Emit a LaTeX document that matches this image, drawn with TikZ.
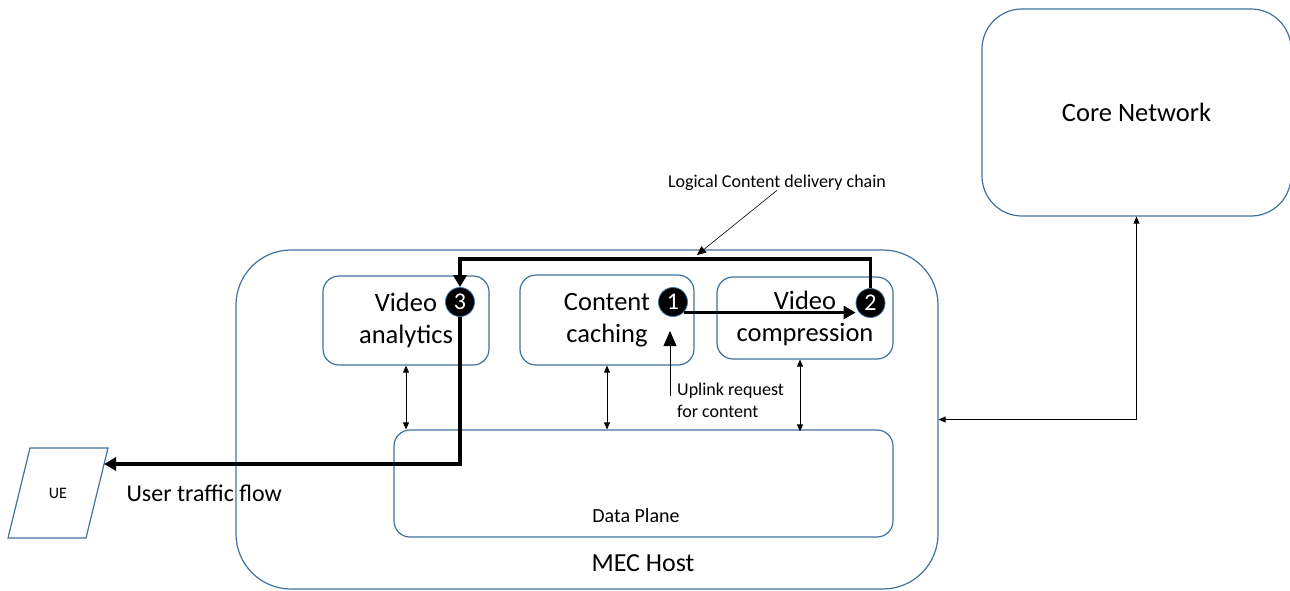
\documentclass[tikz,border=0pt]{standalone}
\usepackage{fontspec}
\setmainfont{Carlito}
\usetikzlibrary{arrows.meta,calc}
\definecolor{boxblue}{RGB}{65,113,156}
\begin{document}
\begin{tikzpicture}[x=1pt,y=-1pt,
  box/.style={draw=boxblue,line width=1.2pt,rounded corners=#1,inner sep=0pt},
  bigtxt/.style={font=\fontsize{26.5}{32}\selectfont,align=center},
  num/.style={circle,fill=black,draw=boxblue,line width=0.8pt,minimum size=29pt,inner sep=0pt,
    text=white,font=\fontsize{24}{24}\selectfont},
  flow/.style={line width=3.8pt,-{Triangle[length=12pt,width=13pt]}},
  link/.style={line width=0.8pt,{Triangle[length=7pt,width=6pt]}-{Triangle[length=7pt,width=6pt]}},
  small/.style={font=\fontsize{18}{22}\selectfont,align=left}]
\useasboundingbox (0,0) rectangle (1290,590);
% boxes
\node[box=55pt,minimum width=702pt,minimum height=339pt] (mec) at (587,419.5) {};
\node[font=\fontsize{26}{30}\selectfont] (mect) at (643,563) {MEC Host};
\node[box=40pt,minimum width=309pt,minimum height=207pt,font=\fontsize{26.5}{30}\selectfont] (core) at (1136.5,112.5) {Core Network};
\node[box=16pt,minimum width=499pt,minimum height=107pt] (dp) at (643.5,483.5) {};
\node[font=\fontsize{20}{24}\selectfont] (dpt) at (636,516) {Data Plane};
\node[box=16pt,minimum width=166pt,minimum height=89pt,bigtxt] (va) at (406,320.5) {Video\\analytics};
\node[box=16pt,minimum width=174pt,minimum height=90pt,bigtxt] (cc) at (607,320) {Content\\caching};
\node[box=16pt,minimum width=176pt,minimum height=82pt,bigtxt] (vc) at (805,318) {Video\\compression};
% UE parallelogram
\node[font=\fontsize{16}{18}\selectfont] (ue) at (58,493) {UE};
\coordinate (uetl) at (30,448);
\coordinate (uetr) at (108,448);
\coordinate (uebr) at (86,538);
\coordinate (uebl) at (8,538);
\draw[draw=boxblue,line width=1.2pt] (uetl) -- (uetr) -- (uebr) -- (uebl) -- cycle;
\node[font=\fontsize{24}{28}\selectfont,anchor=west] (utf) at (123,493) {User traffic flow};
% numbered circles
\node[num] (c3) at (460,302) {3};
\node[num] (c1) at (673,302) {1};
\node[num] (c2) at (870.5,303) {2};
% labels
\node[small,anchor=north west,inner sep=0pt] (upl) at (677,383) {Uplink request\\for content};
\node[font=\fontsize{18}{20}\selectfont] (lcd) at (777,183) {Logical Content delivery chain};
\coordinate (uplb) at (670,396);
\coordinate (uplt) at (670,331);
\coordinate (lct) at (697,255);
\coordinate (turn) at (460,464);
% vertical links
\draw[link] (va.south) -- (va.south |- dp.north);
\draw[link] (cc.south) -- (cc.south |- dp.north);
\draw[link] ([xshift=-5pt]vc.south) -- ([xshift=-5pt,yshift=-2pt]vc.south |- dp.north);
\draw[link] (core.south) |- (mec.east);
% uplink
\draw[line width=0.8pt,-{Triangle[length=15pt,width=13pt]}] (uplb) -- (uplt);
% logical chain pointer
\draw[line width=0.6pt,-{Triangle[length=9pt,width=8pt]}] ([yshift=4pt]lcd.south) -- (lct);
% chain flows
\draw[flow] (c1.-45) -- (c1.-45 -| c2.west);
\draw[flow] (c2.north) -- ++(0,-29.5) -| (c3.north);
\draw[flow] (c3.south) -- (turn) -- ($(uetr)!0.17778!(uebr)$);
\end{tikzpicture}
\end{document}
